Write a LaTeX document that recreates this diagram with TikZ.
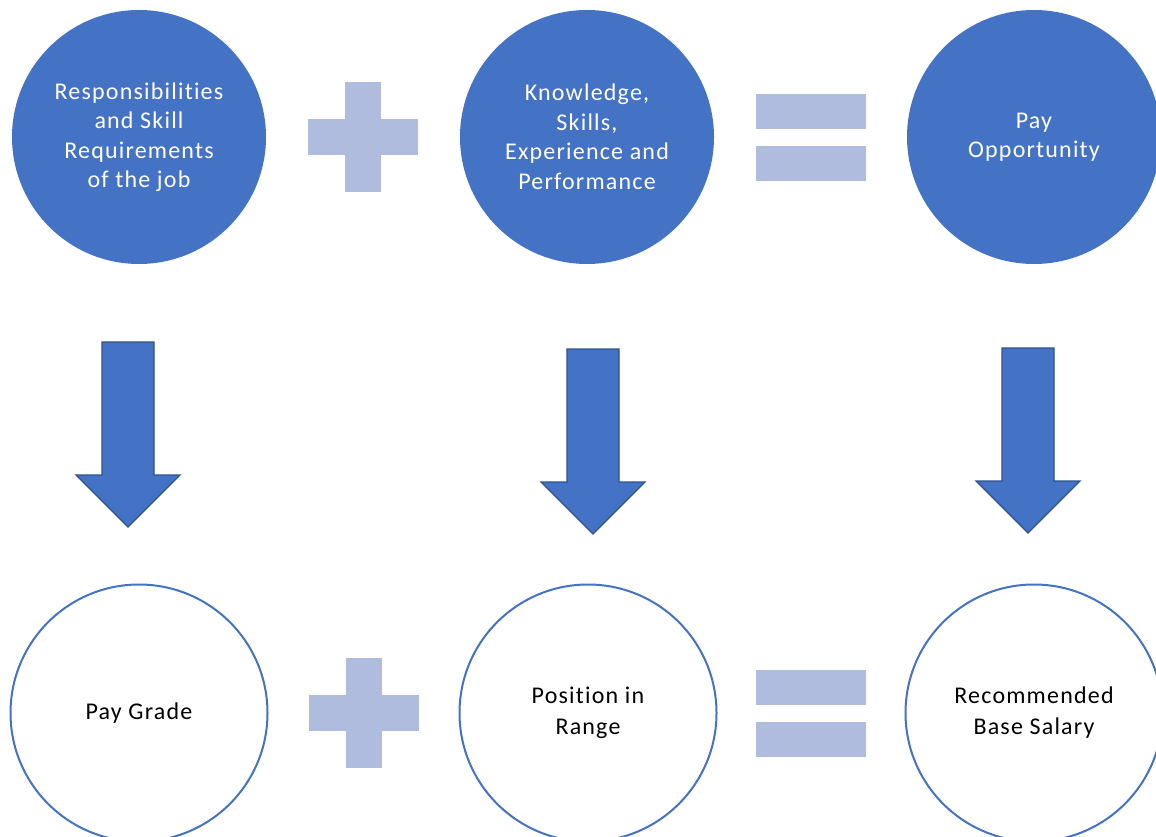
\documentclass[tikz,border=0pt]{standalone}
\usepackage{fontspec}
\setmainfont{Carlito}[LetterSpace=5,Ligatures=NoCommon]
\usetikzlibrary{calc}
\definecolor{accblue}{HTML}{4472C4}
\definecolor{paleblue}{HTML}{B0BCDE}
\definecolor{edgeblue}{HTML}{2F528F}
\def\topnode{\node[circle,fill=accblue,text=white,minimum size=254pt,align=center,font=\fontsize{24}{29.5}\selectfont]}
\def\botnode{\node[circle,draw=accblue,line width=2pt,fill=white,minimum size=257pt,align=center,font=\fontsize{24}{31}\selectfont]}
\def\drawsign{\fill[paleblue]}
\newcommand\blockarrow[1]{%
  \draw[color=edgeblue,fill=accblue,line width=1.2pt,line join=miter]
    ($ (#1) + (-26,0) $) -- ($ (#1) + (26,0) $) -- ($ (#1) + (26,133) $)
    -- ($ (#1) + (52,133) $) -- ($ (#1) + (0,185) $) -- ($ (#1) + (-52,133) $)
    -- ($ (#1) + (-26,133) $) -- cycle;}

\begin{document}
\begin{tikzpicture}[x=1pt,y=-1pt,inner sep=0pt]
\useasboundingbox (0,0) rectangle (1156,837);
\clip (0,0) rectangle (1156,837);

% Top row
\topnode (job) at (139,137) {Responsibilities\\and Skill\\Requirements\\of the job};
\topnode (know) at (587,137) {Knowledge,\\Skills,\\Experience and\\Performance};
\topnode (opp) at (1034,137) {Pay\\Opportunity};

% Bottom row
\botnode (grade) at (139,713) {Pay Grade};
\botnode (range) at (588,713) {Position in\\Range};
\botnode (salary) at (1034,713) {Recommended\\Base Salary};

% Plus and equal signs, half way between the circles
\coordinate (plus_top) at ($ (job)!0.5!(know) $);
\coordinate (equal_top) at ($ (know)!0.5!(opp) $);
\coordinate (plus_bot) at ($ (grade)!0.5!(range) $);
\coordinate (equal_bot) at ($ (range)!0.5!(salary) $);
\drawsign ($ (plus_top) + (-55,-18) $) rectangle ($ (plus_top) + (55,18) $);
\drawsign ($ (plus_top) + (-18,-55) $) rectangle ($ (plus_top) + (18,55) $);
\drawsign ($ (equal_top) + (-55,-43) $) rectangle ($ (equal_top) + (55,-8) $);
\drawsign ($ (equal_top) + (-55,9) $) rectangle ($ (equal_top) + (55,44) $);
\drawsign ($ (plus_bot) + (-55,-18) $) rectangle ($ (plus_bot) + (55,18) $);
\drawsign ($ (plus_bot) + (-18,-55) $) rectangle ($ (plus_bot) + (18,55) $);
\drawsign ($ (equal_bot) + (-55,-43) $) rectangle ($ (equal_bot) + (55,-8) $);
\drawsign ($ (equal_bot) + (-55,9) $) rectangle ($ (equal_bot) + (55,44) $);

% Block arrows from top row down to bottom row
\coordinate (job_arrow) at ($ (job) + (-11,205) $);
\coordinate (know_arrow) at ($ (know) + (6,212) $);
\coordinate (opp_arrow) at ($ (opp) + (-6,211) $);
\blockarrow{job_arrow}
\blockarrow{know_arrow}
\blockarrow{opp_arrow}
\end{tikzpicture}
\end{document}
